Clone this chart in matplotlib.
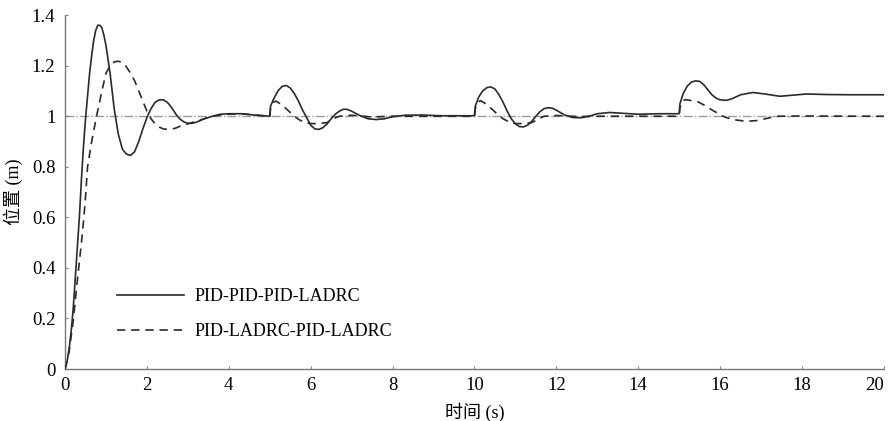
import matplotlib
matplotlib.use("Agg")
import matplotlib.pyplot as plt

# PID-PID-PID-LADRC (solid)
t_solid = [0.0, 0.05, 0.1, 0.15, 0.2, 0.25, 0.3, 0.35, 0.4, 0.45, 0.5, 0.55, 0.6, 0.65,
           0.7, 0.75, 0.8, 0.85, 0.9, 0.95, 1.0, 1.1, 1.2, 1.3, 1.4, 1.5, 1.6, 1.7, 1.8,
           1.9, 2.0, 2.1, 2.2, 2.3, 2.4, 2.5, 2.6, 2.7, 2.8, 2.9, 3.0, 3.1, 3.2, 3.4, 3.6,
           3.8, 4.0, 4.3, 4.6, 5.0,
           5.02, 5.1, 5.2, 5.3, 5.4, 5.5, 5.6, 5.7, 5.8, 5.9, 6.0, 6.1, 6.2, 6.3, 6.4,
           6.5, 6.6, 6.7, 6.8, 6.9, 7.0, 7.2, 7.4, 7.6, 7.8, 8.0, 8.3, 8.7, 9.2, 10.0,
           10.02, 10.1, 10.2, 10.3, 10.4, 10.5, 10.6, 10.7, 10.8, 10.9, 11.0, 11.1, 11.2,
           11.3, 11.4, 11.5, 11.6, 11.7, 11.8, 11.9, 12.0, 12.2, 12.4, 12.6, 12.8, 13.0,
           13.3, 13.6, 14.0, 14.5, 15.0,
           15.02, 15.1, 15.2, 15.3, 15.4, 15.5, 15.6, 15.7, 15.8, 15.9, 16.0, 16.16,
           16.3, 16.5, 16.8, 17.1, 17.46, 17.8, 18.1, 18.6, 19.2, 20.0]
y_solid = [0.0, 0.03, 0.08, 0.15, 0.24, 0.36, 0.48, 0.6, 0.75, 0.88, 0.99, 1.08, 1.17, 1.24,
           1.3, 1.34, 1.36, 1.36, 1.35, 1.32, 1.28, 1.17, 1.03, 0.93, 0.87, 0.85, 0.845,
           0.86, 0.9, 0.95, 0.995, 1.03, 1.055, 1.065, 1.065, 1.055, 1.035, 1.01, 0.99,
           0.978, 0.972, 0.972, 0.976, 0.99, 1.0, 1.008, 1.01, 1.01, 1.005, 1.0,
           1.04, 1.07, 1.1, 1.118, 1.122, 1.112, 1.09, 1.06, 1.025, 0.995, 0.965, 0.95,
           0.948, 0.955, 0.97, 0.99, 1.008, 1.02, 1.028, 1.027, 1.02, 1.003, 0.99, 0.987,
           0.99, 0.998, 1.004, 1.005, 1.002, 1.002,
           1.04, 1.075, 1.1, 1.113, 1.116, 1.108, 1.085, 1.055, 1.02, 0.99, 0.97, 0.959,
           0.958, 0.965, 0.98, 1.0, 1.018, 1.03, 1.034, 1.032, 1.024, 1.005, 0.995, 0.994,
           1.0, 1.01, 1.015, 1.012, 1.008, 1.01, 1.01,
           1.05, 1.09, 1.12, 1.135, 1.14, 1.138, 1.125, 1.105, 1.085, 1.072, 1.065, 1.063,
           1.07, 1.085, 1.094, 1.088, 1.079, 1.084, 1.088, 1.086, 1.085, 1.085]

# PID-LADRC-PID-LADRC (dashed)
t_dash = [0.0, 0.1, 0.2, 0.3, 0.4, 0.46, 0.5, 0.55, 0.65, 0.77, 0.9, 1.0, 1.1, 1.2, 1.3,
          1.4, 1.5, 1.6, 1.7, 1.8, 1.9, 2.0, 2.1, 2.2, 2.3, 2.4, 2.5, 2.6, 2.7, 2.8, 3.0,
          3.2, 3.4, 3.6, 3.9, 4.3, 4.7, 5.0,
          5.02, 5.08, 5.15, 5.25, 5.4, 5.55, 5.7, 5.85, 6.0, 6.2, 6.4, 6.55, 6.7, 7.0,
          7.5, 8.0, 10.0,
          10.02, 10.08, 10.15, 10.25, 10.4, 10.55, 10.7, 10.85, 11.0, 11.2, 11.4, 11.55,
          11.7, 12.0, 12.5, 13.0, 15.0,
          15.02, 15.08, 15.15, 15.3, 15.45, 15.6, 15.8, 16.07, 16.3, 16.65, 16.9, 17.1,
          17.38, 18.0, 20.0]
y_dash = [0.0, 0.07, 0.19, 0.35, 0.5, 0.6, 0.68, 0.8, 0.9, 1.0, 1.1, 1.17, 1.2, 1.215,
          1.218, 1.212, 1.195, 1.17, 1.14, 1.1, 1.06, 1.02, 0.99, 0.97, 0.957, 0.95, 0.948,
          0.949, 0.953, 0.96, 0.97, 0.98, 0.99, 1.0, 1.008, 1.01, 1.004, 1.0,
          1.03, 1.055, 1.06, 1.05, 1.03, 1.008, 0.988, 0.975, 0.971, 0.971, 0.975, 0.99,
          1.0, 1.004, 0.997, 1.0, 1.0,
          1.03, 1.055, 1.062, 1.052, 1.032, 1.01, 0.99, 0.977, 0.971, 0.971, 0.975, 0.988,
          1.0, 1.003, 0.999, 1.0, 1.0,
          1.035, 1.058, 1.066, 1.062, 1.058, 1.045, 1.025, 1.0, 0.987, 0.98, 0.983, 0.99,
          1.0, 1.001, 1.0]

ref_t = [0, 20]
ref_y = [1, 1]

xticks = [0, 2, 4, 6, 8, 10, 12, 14, 16, 18, 20]
yticks = [0, 0.2, 0.4, 0.6, 0.8, 1.0, 1.2, 1.4]
ytick_labels = ['0', '0.2', '0.4', '0.6', '0.8', '1', '1.2', '1.4']

plt.rcParams['font.family'] = ['Liberation Serif', 'Noto Sans CJK SC']

fig = plt.figure(figsize=(8.91, 4.21), dpi=100)
ax = fig.add_axes([0.073, 0.1235, 0.919, 0.8405])

ax.plot(ref_t, ref_y, color='#9a9a9a', lw=1.0, ls='-.', zorder=1)
ax.plot(t_solid, y_solid, color='#2a2a2a', lw=1.2, label='PID-PID-PID-LADRC', zorder=3)
ax.plot(t_dash, y_dash, color='#2a2a2a', lw=1.2, ls=(0, (5, 3.5)),
        label='PID-LADRC-PID-LADRC', zorder=2)

ax.set_xlim(0, 20)
ax.set_ylim(0, 1.4)
ax.set_xticks(xticks)
ax.set_yticks(yticks)
ax.set_yticklabels(ytick_labels)
ax.tick_params(labelsize=13.5, length=2, direction='in', color='#888888')
ax.tick_params(axis='y', pad=7)
ax.tick_params(axis='x', pad=6)
# last x label sits inside the figure edge
ax.get_xticklabels()[-1].set_horizontalalignment('right')
for s in ['top', 'right']:
    ax.spines[s].set_visible(False)
for s in ['left', 'bottom']:
    ax.spines[s].set_color('#777777')
    ax.spines[s].set_linewidth(1.0)

ax.set_xlabel('时间 (s)', fontsize=13, labelpad=6)
ax.set_ylabel('位置 (m)', fontsize=13, labelpad=6)

ax.legend(loc='center left', bbox_to_anchor=(0.044, 0.155), frameon=False,
          fontsize=13, handlelength=3.7, handletextpad=0.55, labelspacing=1.0)

fig.savefig('out.png', dpi=100)
